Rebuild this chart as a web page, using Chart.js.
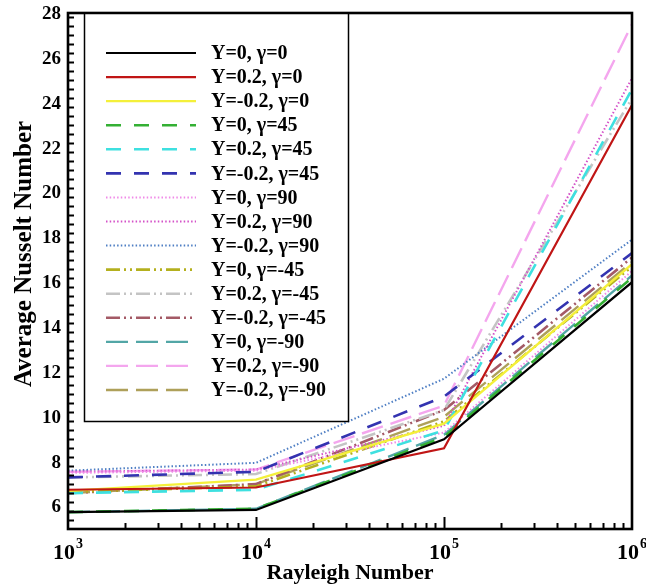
<!DOCTYPE html>
<html>
<head>
<meta charset="utf-8">
<script src="https://cdn.jsdelivr.net/npm/chart.js@4.4.1/dist/chart.umd.min.js"></script>
<style>
  html, body { margin: 0; padding: 0; background: #fff; }
  #wrap { width: 646px; height: 585px; position: relative; }
</style>
</head>
<body>
<div id="wrap"><canvas id="c"></canvas></div>
<script>
// ===== DATA =====
const rayleigh = [1e3, 1e4, 1e5, 1e6]
const seriesNames = [
  'Y=0, γ=0', 'Y=0.2, γ=0', 'Y=-0.2, γ=0',
  'Y=0, γ=45', 'Y=0.2, γ=45', 'Y=-0.2, γ=45',
  'Y=0, γ=90', 'Y=0.2, γ=90', 'Y=-0.2, γ=90',
  'Y=0, γ=-45', 'Y=0.2, γ=-45', 'Y=-0.2, γ=-45',
  'Y=0, γ=-90', 'Y=0.2, γ=-90', 'Y=-0.2, γ=-90'
]
const nu_Y0_g0      = [5.75, 5.85, 9.0, 16.0]
const nu_Y02_g0     = [6.75, 6.85, 8.6, 23.9]
const nu_Ym02_g0    = [6.70, 7.20, 9.7, 16.8]
const nu_Y0_g45     = [5.75, 5.90, 9.1, 16.2]
const nu_Y02_g45    = [6.60, 6.75, 9.4, 24.6]
const nu_Ym02_g45   = [7.30, 7.55, 10.9, 17.3]
const nu_Y0_g90     = [7.50, 7.60, 9.3, 16.5]
const nu_Y02_g90    = [7.55, 7.65, 9.6, 25.1]
const nu_Ym02_g90   = [7.60, 7.95, 11.7, 17.9]
const nu_Y0_gm45    = [6.65, 6.90, 9.8, 16.7]
const nu_Y02_gm45   = [7.30, 7.45, 10.3, 24.2]
const nu_Ym02_gm45  = [6.60, 7.00, 10.3, 17.1]
const nu_Y0_gm90    = [5.75, 5.90, 9.2, 16.3]
const nu_Y02_gm90   = [7.55, 7.65, 10.5, 27.5]
const nu_Ym02_gm90  = [6.60, 7.00, 10.0, 16.9]
const yTicks = [6, 8, 10, 12, 14, 16, 18, 20, 22, 24, 26, 28]
const xTicks = [1e3, 1e4, 1e5, 1e6]
const xTickExp = ['3', '4', '5', '6']

const allSeries = [
  nu_Y0_g0, nu_Y02_g0, nu_Ym02_g0,
  nu_Y0_g45, nu_Y02_g45, nu_Ym02_g45,
  nu_Y0_g90, nu_Y02_g90, nu_Ym02_g90,
  nu_Y0_gm45, nu_Y02_gm45, nu_Ym02_gm45,
  nu_Y0_gm90, nu_Y02_gm90, nu_Ym02_gm90
]

// ===== STYLES =====
const SOLID = [], DASH = [15, 13], DOT = [1.5, 2.2], DASHDOTDOT = [14, 4, 2, 4, 2, 4], LONG = [22, 8]
const styles = [
  { c: '#000000', d: SOLID, w: 2.2 },
  { c: '#c01515', d: SOLID, w: 2.2 },
  { c: '#f4f03a', d: SOLID, w: 2.4 },
  { c: '#34b034', d: DASH, w: 2.6 },
  { c: '#3ee0e0', d: DASH, w: 2.6 },
  { c: '#3333b0', d: DASH, w: 2.6 },
  { c: '#f08ae8', d: DOT, w: 2 },
  { c: '#d452c8', d: DOT, w: 2 },
  { c: '#4f7fc4', d: DOT, w: 2 },
  { c: '#b4b01e', d: DASHDOTDOT, w: 2.6 },
  { c: '#c4c4c4', d: DASHDOTDOT, w: 2.6 },
  { c: '#a45a66', d: DASHDOTDOT, w: 2.6 },
  { c: '#52a6a6', d: LONG, w: 2.4 },
  { c: '#f4a6ee', d: LONG, w: 2.4 },
  { c: '#aea05a', d: LONG, w: 2.4 },
]

const SERIF = '"Liberation Serif", "Times New Roman", serif'

const frame = {
  id: 'frame',
  afterDraw(chart) {
    const { ctx, chartArea: a, scales: { x, y } } = chart
    ctx.save()
    ctx.strokeStyle = '#000'
    ctx.fillStyle = '#000'

    // y ticks (inward), minor every 0.4
    ctx.lineWidth = 2
    for (let v = 5.4; v < 28; v += 0.4) {
      const py = Math.round(y.getPixelForValue(v)) + 0.5
      const major = Math.abs(v / 2 - Math.round(v / 2)) < 0.01
      ctx.beginPath()
      ctx.moveTo(a.left, py)
      ctx.lineTo(a.left + (major ? 12 : 6), py)
      ctx.stroke()
    }
    // x ticks (inward), log minors
    for (let d = 3; d < 6; d++) {
      for (let m = 1; m <= 9; m++) {
        const v = m * Math.pow(10, d)
        if (v <= 1e3) continue
        const px = Math.round(x.getPixelForValue(v)) + 0.5
        ctx.beginPath()
        ctx.moveTo(px, a.bottom)
        ctx.lineTo(px, a.bottom - (m === 1 ? 12 : 6))
        ctx.stroke()
      }
    }

    // frame
    ctx.lineWidth = 2.6
    ctx.strokeRect(a.left, a.top, a.right - a.left, a.bottom - a.top)

    // y tick labels
    ctx.font = 'bold 19px ' + SERIF
    ctx.textAlign = 'right'
    ctx.textBaseline = 'middle'
    yTicks.forEach(v => ctx.fillText(String(v), a.left - 7, y.getPixelForValue(v) + 1))

    // x tick labels 10^n
    xTicks.forEach((v, i) => {
      const px = x.getPixelForValue(v)
      ctx.font = 'bold 22px ' + SERIF
      const w = ctx.measureText('10').width
      ctx.textAlign = 'left'
      ctx.textBaseline = 'alphabetic'
      ctx.fillText('10', px - w / 2 - 4, a.bottom + 30)
      ctx.font = 'bold 14px ' + SERIF
      ctx.fillText(xTickExp[i], px + w / 2 - 3, a.bottom + 19)
    })

    // axis titles
    ctx.font = 'bold 22px ' + SERIF
    ctx.textAlign = 'center'
    ctx.textBaseline = 'alphabetic'
    ctx.fillText('Rayleigh Number', (a.left + a.right) / 2, 579)
    ctx.save()
    ctx.translate(31, 254)
    ctx.rotate(-Math.PI / 2)
    ctx.font = 'bold 25px ' + SERIF
    ctx.fillText('Average Nusselt Number', 0, 0)
    ctx.restore()

    // legend box
    const lx = 84, ly = a.top, lw = 264, lh = 408
    ctx.fillStyle = '#fff'
    ctx.fillRect(lx, ly, lw, lh)
    ctx.lineWidth = 1.5
    ctx.strokeStyle = '#000'
    ctx.strokeRect(lx + 0.5, ly + 0.5, lw, lh)
    ctx.font = 'bold 20px ' + SERIF
    ctx.textAlign = 'left'
    ctx.textBaseline = 'middle'
    seriesNames.forEach((name, i) => {
      const ry = 53 + i * 24.07
      const s = styles[i]
      ctx.strokeStyle = s.c
      ctx.lineWidth = s.w
      ctx.setLineDash(s.d)
      ctx.beginPath()
      ctx.moveTo(106, ry)
      ctx.lineTo(196, ry)
      ctx.stroke()
      ctx.setLineDash([])
      ctx.fillStyle = '#000'
      ctx.fillText(name, 211, ry + 1)
    })
    ctx.restore()
  }
}

new Chart(document.getElementById('c'), {
  type: 'line',
  data: {
    datasets: allSeries.map((vals, i) => ({
      label: seriesNames[i],
      data: rayleigh.map((r, k) => ({ x: r, y: vals[k] })),
      borderColor: styles[i].c,
      borderDash: styles[i].d,
      borderWidth: styles[i].w,
      pointRadius: 0,
      tension: 0,
      fill: false,
    }))
  },
  options: {
    responsive: true, maintainAspectRatio: false,
    animation: false,
    layout: { padding: { left: 68, right: 14, top: 13, bottom: 56 } },
    plugins: { legend: { display: false }, tooltip: { enabled: false } },
    scales: {
      x: { type: 'logarithmic', min: 1e3, max: 1e6, display: false },
      y: { min: 5, max: 28, display: false }
    }
  },
  plugins: [frame]
})
</script>
</body>
</html>
